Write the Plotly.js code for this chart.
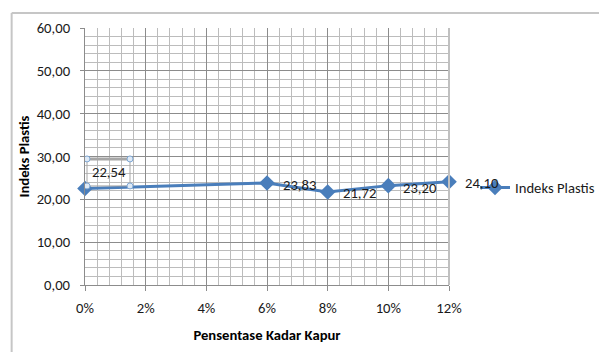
<!DOCTYPE html>
<html>
<head>
<meta charset="utf-8">
<script src="https://cdn.plot.ly/plotly-3.0.1.min.js"></script>
<style>
  html, body { margin: 0; padding: 0; background: #ffffff; }
  #chart { width: 599px; height: 352px; }
</style>
</head>
<body>
<div id="chart"></div>
<script>
// Kadar kapur (fraction) and the measured plasticity index
const kadarKapur = [0, 0.06, 0.08, 0.10, 0.12];
const indeksPlastis = [22.54, 23.83, 21.72, 23.20, 24.10];
const seriesName = 'Indeks Plastis';
const xTitle = 'Pensentase Kadar Kapur';
const yTitle = 'Indeks Plastis';

const FONT = 'Carlito, Calibri, "Liberation Sans", Arial, sans-serif';
const FS = 14.67;
const LINE_BLUE = '#4a7ebb';
const MAJOR = '#8c8c8c';
const MINOR = '#bcbcbc';

// values written with a decimal comma, two decimals
const fmt = v => v.toFixed(2).replace('.', ',');

// label offsets in pixels from each point: [xshift, yshift, xanchor]
const labelOffsets = [[23.5, 16, 'center'], [14, -2, 'left'], [13, -1, 'left'], [13, -2, 'left'], [14, -1, 'left']];

const annotations = indeksPlastis.map((v, i) => ({
  x: kadarKapur[i], y: v, xref: 'x', yref: 'y',
  text: fmt(v), showarrow: false,
  xanchor: labelOffsets[i][2], yanchor: 'middle',
  xshift: labelOffsets[i][0], yshift: labelOffsets[i][1],
  font: { family: FONT, size: FS, color: '#1a1a1a' }
}));

// selection frame around the first data label
const ax0 = kadarKapur[0], ay0 = indeksPlastis[0];
const pixShape = (type, x0, x1, y0, y1, extra) => Object.assign({
  type: type, xref: 'x', yref: 'y', xsizemode: 'pixel', ysizemode: 'pixel',
  xanchor: ax0, yanchor: ay0, x0: x0, x1: x1, y0: y0, y1: y1, layer: 'above'
}, extra);
const handle = (cx, cy) => pixShape('circle', cx - 3, cx + 3, cy - 3, cy + 3,
  { line: { color: '#7fa7d3', width: 1 }, fillcolor: '#dfeaf6' });

const shapes = [
  pixShape('rect', 2, 45, 2.5, 29.5, { line: { color: '#a6a6a6', width: 1 } }),
  pixShape('line', 2, 45, 29.5, 29.5, { line: { color: '#a6a6a6', width: 3 } }),
  handle(2, 29.5), handle(45, 29.5), handle(2, 2.5), handle(45, 2.5),
  // chart frame
  { type: 'line', xref: 'paper', yref: 'paper', x0: -0.2015, x1: -0.2015, y0: 1.058, y1: -0.35,
    line: { color: '#c6c6c6', width: 2 } },
  { type: 'line', xref: 'paper', yref: 'paper', x0: -0.2015, x1: 1.45, y0: 1.058, y1: 1.058,
    line: { color: '#c6c6c6', width: 2 } },
  // right edge of the plot area
  { type: 'line', xref: 'paper', yref: 'paper', x0: 1, x1: 1, y0: 0, y1: 1,
    line: { color: '#c0c0c0', width: 2 } }
];

const trace = {
  x: kadarKapur, y: indeksPlastis, name: seriesName,
  type: 'scatter', mode: 'lines+markers', cliponaxis: false,
  line: { color: LINE_BLUE, width: 3 },
  marker: { symbol: 'diamond', size: 12, color: LINE_BLUE }
};

const layout = {
  width: 599, height: 352,
  margin: { l: 85, r: 150, t: 28, b: 67 },
  paper_bgcolor: '#ffffff', plot_bgcolor: '#ffffff',
  font: { family: FONT, size: FS, color: '#1a1a1a' },
  showlegend: true,
  legend: { xref: 'container', yref: 'container', x: 0.793, xanchor: 'left', y: 0.466, yanchor: 'middle',
            font: { family: FONT, size: FS, color: '#1a1a1a' }, bgcolor: 'rgba(0,0,0,0)',
            itemwidth: 30 },
  xaxis: {
    range: [0, 0.12], dtick: 0.02, tick0: 0, tickformat: '.0%',
    showgrid: true, gridcolor: MAJOR, gridwidth: 1,
    minor: { dtick: 0.004, showgrid: true, gridcolor: MINOR, gridwidth: 1 },
    showline: true, linecolor: MAJOR, linewidth: 1, mirror: false,
    ticks: 'outside', ticklen: 5, tickcolor: MAJOR, ticklabelstandoff: 4,
    zeroline: false, fixedrange: true,
    title: { text: xTitle, font: { family: FONT, size: FS, color: '#000000', weight: 'bold' }, standoff: 14 }
  },
  yaxis: {
    range: [0, 60], dtick: 10, tick0: 0, tickformat: '.2f',
    showgrid: true, gridcolor: MAJOR, gridwidth: 1,
    minor: { dtick: 2, showgrid: true, gridcolor: MINOR, gridwidth: 1 },
    showline: true, linecolor: MAJOR, linewidth: 1, mirror: false,
    ticks: 'outside', ticklen: 4, tickcolor: MAJOR, ticklabelstandoff: 7,
    zeroline: false, fixedrange: true,
    title: { text: yTitle, font: { family: FONT, size: FS, color: '#000000', weight: 'bold' }, standoff: 3 }
  },
  separators: ',.',
  annotations: annotations,
  shapes: shapes
};

Plotly.newPlot('chart', [trace], layout, { displayModeBar: false, staticPlot: true });
</script>
</body>
</html>
